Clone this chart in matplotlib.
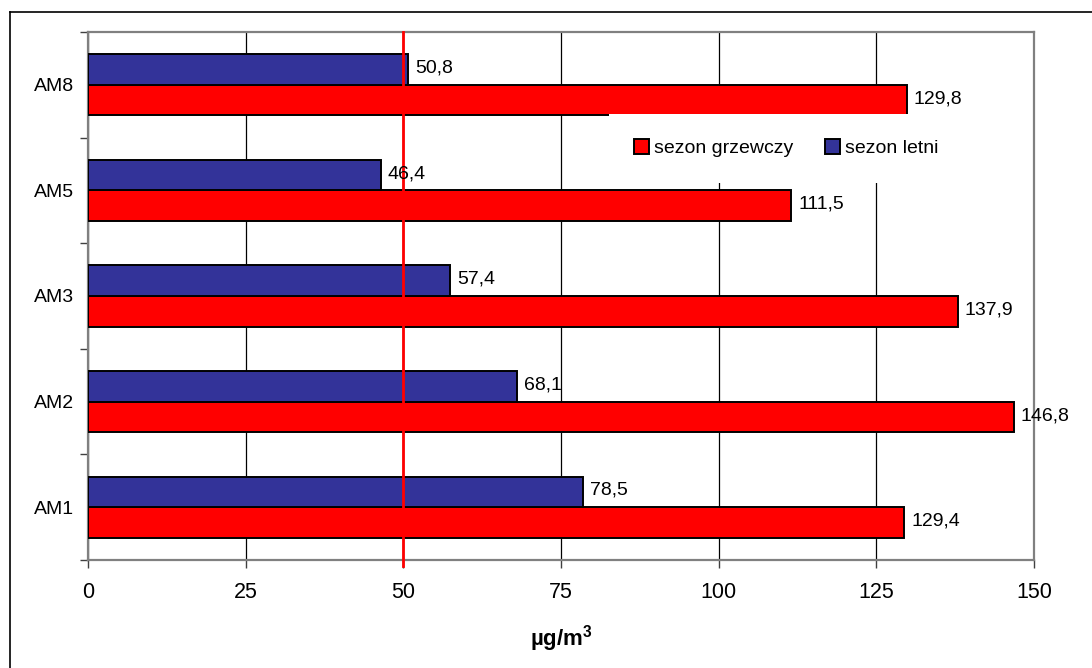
import matplotlib.pyplot as plt
from matplotlib.lines import Line2D

plt.rcParams['font.family'] = ['Liberation Sans', 'DejaVu Sans']
plt.rcParams['mathtext.fontset'] = 'custom'
plt.rcParams['mathtext.rm'] = 'Liberation Sans'
plt.rcParams['mathtext.bf'] = 'Liberation Sans:bold'

# stations, bottom to top
stations = ['AM1', 'AM2', 'AM3', 'AM5', 'AM8']
heating = [129.4, 146.8, 137.9, 111.5, 129.8]   # sezon grzewczy
summer = [78.5, 68.1, 57.4, 46.4, 50.8]         # sezon letni
limit = 50
x_ticks = [0, 25, 50, 75, 100, 125, 150]

fig = plt.figure(figsize=(10.92, 6.68), dpi=100)
ax = fig.add_axes([88/1092, 1 - 560/668, 946/1092, 528/668])

pos = list(range(len(stations)))
h = 0.29
red_bars = ax.barh([p - h/2 for p in pos], heating, height=h, color='#ff0000',
                   edgecolor='black', linewidth=1.4, zorder=3, label='sezon grzewczy')
blue_bars = ax.barh([p + h/2 for p in pos], summer, height=h, color='#333399',
                    edgecolor='black', linewidth=1.4, zorder=3, label='sezon letni')

def fmt(v):
    return f'{v:.1f}'.replace('.', ',')

for bars, vals in ((red_bars, heating), (blue_bars, summer)):
    for b, v in zip(bars, vals):
        ax.annotate(fmt(v), (v, b.get_y() + b.get_height()/2), xytext=(5, 1),
                    textcoords='offset points', va='center', ha='left',
                    fontsize=14, zorder=6)

# limit line
ax.axvline(limit, color='#ff0000', linewidth=2, zorder=5, ymin=-0.012, clip_on=False)

ax.set_xlim(0, 150)
ax.set_ylim(-0.5, len(stations) - 0.5)
ax.set_xticks(x_ticks)
ax.set_xticklabels([str(t) for t in x_ticks], fontsize=15.5)
ax.tick_params(axis='x', length=6, width=1, color='#404040', pad=10)

# category boundaries get tick marks, centres get the labels
ax.set_yticks([p - 0.5 for p in range(len(stations) + 1)])
ax.set_yticklabels([])
ax.set_yticks(pos, minor=True)
ax.set_yticklabels(stations, minor=True, fontsize=14)
ax.tick_params(axis='y', which='major', length=6, width=1, color='#404040')
ax.tick_params(axis='y', which='minor', length=0, pad=10)

ax.grid(axis='x', color='black', linewidth=0.9, zorder=0)
ax.set_axisbelow(True)
for s in ax.spines.values():
    s.set_color('#808080')
    s.set_linewidth(1.6)

ax.set_xlabel(r'µg/m$^{\mathbf{3}}$', fontsize=16, fontweight='bold', labelpad=14)

leg = ax.legend(handles=[red_bars, blue_bars], loc='center', bbox_to_anchor=(0.738, 0.78),
                ncol=2, fontsize=14, frameon=True, fancybox=False, framealpha=1,
                facecolor='white', edgecolor='none', borderpad=1.3,
                handlelength=0.8, handleheight=0.8, handletextpad=0.25,
                columnspacing=1.6)
leg.set_zorder(7)

# outer chart border
fig.add_artist(Line2D([10/1092, 1], [1 - 12/668, 1 - 12/668], color='black', linewidth=1.2))
fig.add_artist(Line2D([10/1092, 10/1092], [0, 1 - 12/668], color='black', linewidth=1.2))

fig.savefig('out.png', dpi=100)
